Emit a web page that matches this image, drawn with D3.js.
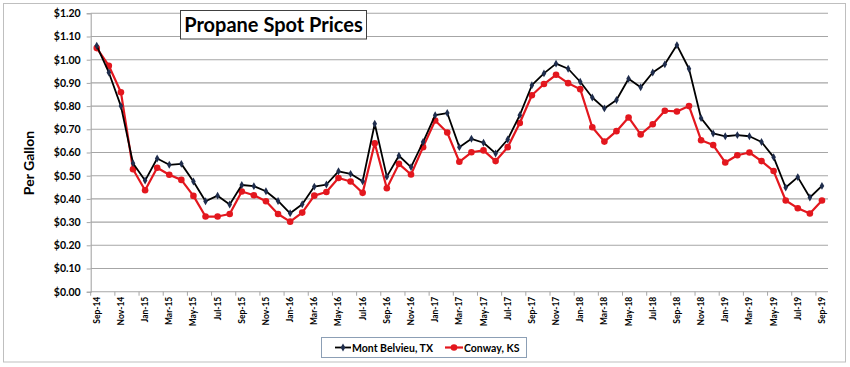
<!DOCTYPE html>
<html>
<head>
<meta charset="utf-8">
<script src="https://cdn.jsdelivr.net/npm/d3@7"></script>
<style>
  html, body { margin: 0; padding: 0; background: #fff; }
  svg { display: block; font-family: Lato, "Open Sans", sans-serif; }
</style>
</head>
<body>
<svg id="chart" width="850" height="367"></svg>
<script>
const months = ["Sep-14","Oct-14","Nov-14","Dec-14","Jan-15","Feb-15","Mar-15","Apr-15","May-15","Jun-15","Jul-15","Aug-15",
  "Sep-15","Oct-15","Nov-15","Dec-15","Jan-16","Feb-16","Mar-16","Apr-16","May-16","Jun-16","Jul-16","Aug-16",
  "Sep-16","Oct-16","Nov-16","Dec-16","Jan-17","Feb-17","Mar-17","Apr-17","May-17","Jun-17","Jul-17","Aug-17",
  "Sep-17","Oct-17","Nov-17","Dec-17","Jan-18","Feb-18","Mar-18","Apr-18","May-18","Jun-18","Jul-18","Aug-18",
  "Sep-18","Oct-18","Nov-18","Dec-18","Jan-19","Feb-19","Mar-19","Apr-19","May-19","Jun-19","Jul-19","Aug-19","Sep-19"];

const montBelvieu = [1.06,0.945,0.80,0.554,0.479,0.574,0.547,0.551,0.475,0.390,0.414,0.376,
  0.460,0.455,0.433,0.391,0.338,0.377,0.453,0.462,0.519,0.508,0.476,0.724,
  0.496,0.586,0.537,0.645,0.761,0.770,0.623,0.659,0.642,0.596,0.656,0.761,
  0.890,0.941,0.983,0.961,0.905,0.837,0.790,0.826,0.918,0.881,0.945,0.980,
  1.063,0.961,0.748,0.682,0.670,0.675,0.670,0.645,0.580,0.449,0.494,0.406,0.456];

const conway = [1.05,0.974,0.86,0.528,0.437,0.534,0.504,0.482,0.413,0.324,0.324,0.335,
  0.432,0.416,0.390,0.335,0.302,0.341,0.414,0.430,0.490,0.475,0.426,0.640,
  0.446,0.551,0.505,0.623,0.738,0.686,0.560,0.601,0.609,0.563,0.623,0.727,
  0.847,0.895,0.935,0.899,0.873,0.709,0.647,0.692,0.751,0.678,0.722,0.780,
  0.777,0.800,0.653,0.632,0.557,0.588,0.600,0.563,0.520,0.393,0.360,0.337,0.393];

const yTicks = [0,0.1,0.2,0.3,0.4,0.5,0.6,0.7,0.8,0.9,1.0,1.1,1.2];
const seriesNames = ["Mont Belvieu, TX","Conway, KS"];
const titleText = "Propane Spot Prices";
const yTitle = "Per Gallon";

const svg = d3.select("#chart");
const L = 90.7, R = 828, T = 13.3, B = 291.7;

// outer border
svg.append("rect").attr("x",3.5).attr("y",3.5).attr("width",842).attr("height",358.5)
  .attr("fill","#fff").attr("stroke","#bfbfbf").attr("stroke-width",1);

const x = d3.scaleBand().domain(months).range([L, R]).paddingInner(0).paddingOuter(0);
const y = d3.scaleLinear().domain([0, 1.2]).range([B, T]);
const cx = d => x(d) + x.bandwidth()/2;

// gridlines
svg.append("g").selectAll("line").data(yTicks.slice(1)).join("line")
  .attr("x1", L).attr("x2", R)
  .attr("y1", d => y(d)).attr("y2", d => y(d))
  .attr("stroke", "#a6a6a6").attr("stroke-width", 1.1);

// y axis
const yAxis = d3.axisLeft(y).tickValues(yTicks).tickSize(4).tickPadding(6)
  .tickFormat(d => "$" + d.toFixed(2));
const gy = svg.append("g").attr("transform", `translate(${L},0)`).call(yAxis);
gy.select(".domain").attr("stroke", "#a6a6a6").attr("stroke-width", 1.1);
gy.selectAll(".tick line").attr("stroke", "#a6a6a6");
gy.selectAll(".tick text").attr("font-family", "Lato, sans-serif").attr("font-weight", "bold")
  .attr("font-size", 10.5).attr("fill", "#000");

// x axis line
svg.append("line").attr("x1", L).attr("x2", R).attr("y1", B).attr("y2", B)
  .attr("stroke", "#a6a6a6").attr("stroke-width", 1.1);
// x tick marks every 2 categories at band boundaries
const tickIdx = d3.range(0, months.length + 1, 2);
svg.append("g").selectAll("line").data(tickIdx).join("line")
  .attr("x1", i => i < months.length ? x(months[i]) : R)
  .attr("x2", i => i < months.length ? x(months[i]) : R)
  .attr("y1", B).attr("y2", B + 4)
  .attr("stroke", "#a6a6a6");
// x labels
svg.append("g").selectAll("text").data(months.filter((m, i) => i % 2 === 0)).join("text")
  .attr("transform", d => `translate(${cx(d) + 3},${B + 5}) rotate(-90)`)
  .attr("text-anchor", "end")
  .attr("font-family", "Lato, sans-serif").attr("font-weight", "bold").attr("font-size", 8.5)
  .attr("fill", "#000")
  .text(d => d);

// y title
svg.append("text").attr("transform", `translate(34,163) rotate(-90)`)
  .attr("text-anchor", "middle").attr("font-weight", "bold").attr("font-size", 14)
  .attr("fill", "#000").text(yTitle);

// lines
const line = d3.line().x((d, i) => cx(months[i])).y(d => y(d));
svg.append("path").datum(conway).attr("d", line).attr("fill", "none")
  .attr("stroke", "#e3171e").attr("stroke-width", 2.2).attr("stroke-linejoin", "round");
svg.append("g").selectAll("circle").data(conway).join("circle")
  .attr("cx", (d, i) => cx(months[i])).attr("cy", d => y(d)).attr("r", 3.3)
  .attr("fill", "#e3171e");

svg.append("path").datum(montBelvieu).attr("d", line).attr("fill", "none")
  .attr("stroke", "#000").attr("stroke-width", 1.8).attr("stroke-linejoin", "round");
const diamond = d3.symbol().type(d3.symbolDiamond).size(18);
svg.append("g").selectAll("path").data(montBelvieu).join("path")
  .attr("transform", (d, i) => `translate(${cx(months[i])},${y(d)})`)
  .attr("d", diamond).attr("fill", "#1f2d4d");

// title box
svg.append("rect").attr("x", 180.5).attr("y", 10.5).attr("width", 186).attr("height", 28.5)
  .attr("fill", "#fff").attr("stroke", "#404040").attr("stroke-width", 1);
svg.append("text").attr("x", 273.5).attr("y", 31.5).attr("text-anchor", "middle")
  .attr("font-weight", "bold").attr("font-size", 20).attr("fill", "#000").text(titleText);

// legend
const lg = svg.append("g");
lg.append("rect").attr("x", 321.5).attr("y", 337.5).attr("width", 205).attr("height", 20)
  .attr("fill", "#fff").attr("stroke", "#8c9fb5").attr("stroke-width", 1);
lg.append("line").attr("x1", 335).attr("x2", 351).attr("y1", 347.5).attr("y2", 347.5)
  .attr("stroke", "#000").attr("stroke-width", 1.8);
lg.append("path").attr("transform", "translate(343,347.5)").attr("d", diamond).attr("fill", "#1f2d4d");
lg.append("text").attr("x", 352).attr("y", 351.5).attr("font-weight", "bold").attr("font-size", 10.5)
  .attr("fill", "#000").text(seriesNames[0]);
lg.append("line").attr("x1", 445).attr("x2", 463).attr("y1", 347.5).attr("y2", 347.5)
  .attr("stroke", "#e3171e").attr("stroke-width", 2.2);
lg.append("circle").attr("cx", 454).attr("cy", 347.5).attr("r", 3.3).attr("fill", "#e3171e");
lg.append("text").attr("x", 464).attr("y", 351.5).attr("font-weight", "bold").attr("font-size", 10.5)
  .attr("fill", "#000").text(seriesNames[1]);
</script>
</body>
</html>
